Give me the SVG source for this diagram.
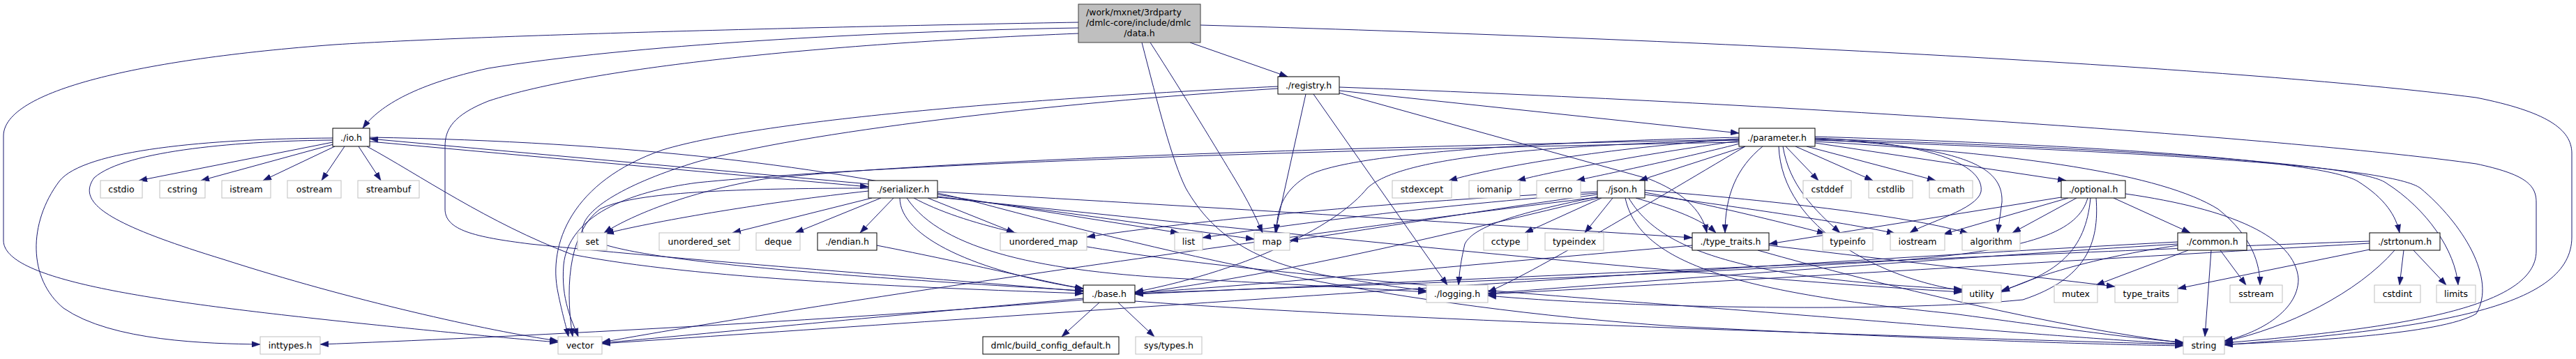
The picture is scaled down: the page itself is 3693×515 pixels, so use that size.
<svg xmlns="http://www.w3.org/2000/svg" width="3693" height="515" viewBox="0 0 3693 515">
<style>
.e{fill:none;stroke:#191970;stroke-width:1;marker-end:url(#ah)}
.n rect{fill:#ffffff;stroke:#000000;stroke-width:1}
.x rect{stroke:#bfbfbf}
.r rect{fill:#bfbfbf;stroke:#404040}
text{font-family:"DejaVu Sans","Liberation Sans",sans-serif;font-size:12.5px;text-anchor:middle;fill:#000000}
.l{text-anchor:start}
</style>
<defs>
<marker id="ah" markerUnits="userSpaceOnUse" markerWidth="12" markerHeight="9" viewBox="0 0 12 9" refX="12" refY="4.5" orient="auto">
<path d="M0,0.3 L12,4.5 L0,8.7 z" fill="#191970" stroke="#191970" stroke-width="0.5"/>
</marker>
</defs>
<rect x="0" y="0" width="3693" height="515" fill="#ffffff"/>
<g id="edges">
<path class="e" d="M1546,40 C1250,45 900,65 700,98 C600,120 545,150 520,184"/>
<path class="e" d="M1546,32 C1200,38 700,50 480,64 C200,85 5,130 5,195 L5,345 C5,400 200,430 480,460 C650,478 750,487 800,491"/>
<path class="e" d="M1546,48 C1200,62 850,95 700,145 C650,165 638,185 638,210 L638,300 C638,330 680,340 760,350 C1000,375 1350,400 1553,418"/>
<path class="e" d="M1649,61 C1700,140 1745,215 1771,258 C1790,290 1800,310 1810,334"/>
<path class="e" d="M1637,61 C1660,150 1680,230 1700,270 C1740,340 1800,375 1900,395 C1960,405 2000,412 2045,417"/>
<path class="e" d="M1706,61 L1846,110"/>
<path class="e" d="M1721,36 C2400,55 3200,95 3550,140 C3650,160 3687,185 3687,220 L3687,340 C3687,440 3500,470 3189,495"/>
<path class="e" d="M477,204 L199,259"/>
<path class="e" d="M478,207 L288,259"/>
<path class="e" d="M480,210 L377,259"/>
<path class="e" d="M494,210 L461,259"/>
<path class="e" d="M514,210 L546,259"/>
<path class="e" d="M526,210 C600,250 700,320 820,365 C1000,400 1300,412 1553,421"/>
<path class="e" d="M530,197 C900,203 1200,240 1400,290 C1700,370 2000,440 2400,468 C2800,488 3000,494 3130,496"/>
<path class="e" d="M530,203 L1245,268"/>
<path class="e" d="M477,198 C300,199 120,215 85,260 C40,320 40,400 91,442 C160,490 300,493 373,494"/>
<path class="e" d="M477,201 C350,202 180,215 135,255 C110,290 150,320 320,372 C500,430 700,475 800,489"/>
<path class="e" d="M1245,264 L530,199"/>
<path class="e" d="M1245,274 C1100,290 950,315 868,335"/>
<path class="e" d="M1250,284 L1050,334"/>
<path class="e" d="M1263,284 L1140,334"/>
<path class="e" d="M1281,284 L1233,334"/>
<path class="e" d="M1330,284 L1455,334"/>
<path class="e" d="M1344,279 L1690,334"/>
<path class="e" d="M1344,282 C1500,300 1700,330 1798,343"/>
<path class="e" d="M1344,275 C1700,295 2100,320 2426,341"/>
<path class="e" d="M1344,283 C1800,330 2400,395 2813,419"/>
<path class="e" d="M1245,270 C1000,270 900,280 860,300 C820,330 808,400 821,483"/>
<path class="e" d="M1290,284 C1290,340 1400,390 1553,414"/>
<path class="e" d="M1300,284 C1350,360 1500,390 1700,400 C1850,408 1950,413 2045,419"/>
<path class="e" d="M1310,284 C1450,360 1800,390 2300,430 C2700,460 3000,488 3130,493"/>
<path class="e" d="M1872,135 L1828,334"/>
<path class="e" d="M1883,135 L2075,409"/>
<path class="e" d="M1920,130 L2493,191"/>
<path class="e" d="M1920,125 C2600,150 3300,200 3550,235 C3620,250 3636,265 3636,290 L3636,360 C3636,440 3450,470 3189,492"/>
<path class="e" d="M1919,133 L2365,257 C2410,275 2440,300 2447,334"/>
<path class="e" d="M1832,124 C1500,140 1100,170 950,215 C820,260 785,350 800,420 C806,450 812,470 815,483"/>
<path class="e" d="M1832,127 C1500,148 1150,190 1000,232 C900,262 835,300 835,330 C835,360 1000,385 1553,417"/>
<path class="e" d="M2493,199 C2300,213 2150,238 2077,259"/>
<path class="e" d="M2493,202 C2350,222 2230,245 2175,259"/>
<path class="e" d="M2494,206 C2400,230 2300,250 2260,259"/>
<path class="e" d="M2502,210 L2350,259"/>
<path class="e" d="M2560,210 L2607,259"/>
<path class="e" d="M2574,210 L2685,259"/>
<path class="e" d="M2590,210 L2775,259"/>
<path class="e" d="M2602,205 L2962,259"/>
<path class="e" d="M2527,210 C2490,240 2473,280 2473,334"/>
<path class="e" d="M2602,198 C2780,205 2845,240 2840,275 C2835,300 2760,320 2738,334"/>
<path class="e" d="M2602,200 C2820,210 2872,240 2870,290 L2864,334"/>
<path class="e" d="M2556,210 C2565,265 2600,300 2638,334"/>
<path class="e" d="M2550,210 C2555,330 2700,400 2813,417"/>
<path class="e" d="M2602,203 C2900,220 3100,250 3180,300 C3230,340 3240,380 3240,409"/>
<path class="e" d="M2602,196 C3000,208 3330,230 3380,260 C3420,285 3435,310 3440,334"/>
<path class="e" d="M2602,199 C3050,213 3380,235 3420,262 C3480,300 3520,360 3524,409"/>
<path class="e" d="M2602,201 C3100,218 3430,240 3470,270 C3530,320 3580,400 3550,450 C3500,480 3300,490 3189,494"/>
<path class="e" d="M2493,197 C2200,204 1920,220 1870,255 C1840,275 1830,300 1830,334"/>
<path class="e" d="M2493,201 C2150,210 2000,232 1960,270 C1920,320 1800,385 1627,419"/>
<path class="e" d="M2493,204 C2000,213 1300,232 1000,262 C900,275 815,310 808,380 C804,430 820,460 829,483"/>
<path class="e" d="M2493,200 C2000,210 1400,226 1100,256 C980,276 900,312 866,334"/>
<path class="e" d="M2502,210 C2350,300 2200,390 2133,419"/>
<path class="e" d="M2296,284 L2186,334"/>
<path class="e" d="M2312,284 L2272,334"/>
<path class="e" d="M2292,282 C2150,310 2110,330 2100,350 C2093,380 2092,395 2091,409"/>
<path class="e" d="M2290,279 C2100,305 1950,332 1849,345"/>
<path class="e" d="M2290,277 C2050,295 1850,322 1724,341"/>
<path class="e" d="M2290,275 C2000,288 1700,318 1558,340"/>
<path class="e" d="M2290,283 C1900,330 1200,430 863,491"/>
<path class="e" d="M2292,284 C2100,330 1850,392 1627,421"/>
<path class="e" d="M2345,284 C2400,300 2440,315 2460,334"/>
<path class="e" d="M2358,276 C2450,293 2550,318 2617,335"/>
<path class="e" d="M2358,279 C2500,298 2650,320 2717,335"/>
<path class="e" d="M2358,273 C2550,288 2750,312 2822,335"/>
<path class="e" d="M2335,284 C2380,360 2500,400 2813,415"/>
<path class="e" d="M2330,284 C2350,380 2500,420 2800,450 C2950,470 3050,485 3130,491"/>
<path class="e" d="M2955,283 L2536,350"/>
<path class="e" d="M2965,284 L2786,336"/>
<path class="e" d="M2977,284 L2885,334"/>
<path class="e" d="M2993,284 C2980,330 2920,360 2700,375 C2300,400 1900,410 1627,421"/>
<path class="e" d="M2997,284 C2990,360 2950,392 2869,417"/>
<path class="e" d="M3005,284 C3010,350 2990,400 2900,430 C2700,450 2300,440 2133,424"/>
<path class="e" d="M3030,284 L3140,334"/>
<path class="e" d="M3047,278 C3200,300 3290,340 3295,400 C3295,450 3230,480 3189,489"/>
<path class="e" d="M3183,359 L3220,409"/>
<path class="e" d="M3170,359 L3161,483"/>
<path class="e" d="M3137,359 L3005,409"/>
<path class="e" d="M3122,352 C3000,370 2920,395 2869,419"/>
<path class="e" d="M3122,350 C2800,370 2400,400 2133,421"/>
<path class="e" d="M3122,347 C2500,380 1500,450 863,493"/>
<path class="e" d="M3397,358 L3122,414"/>
<path class="e" d="M3433,359 C3380,420 3280,470 3189,490"/>
<path class="e" d="M3446,359 L3440,409"/>
<path class="e" d="M3460,359 L3507,409"/>
<path class="e" d="M3397,346 C3000,360 2300,392 1627,422"/>
<path class="e" d="M3397,349 C3000,372 2500,402 2133,422"/>
<path class="e" d="M1257,352 C1400,380 1500,405 1553,414"/>
<path class="e" d="M2426,352 C2100,380 1800,410 1627,420"/>
<path class="e" d="M2536,352 L3032,411"/>
<path class="e" d="M2520,359 C2700,410 2950,470 3130,492"/>
<path class="e" d="M1576,434 L1522,483"/>
<path class="e" d="M1603,434 L1655,483"/>
<path class="e" d="M1553,428 C1300,450 1000,480 863,492"/>
<path class="e" d="M1553,430 C1200,460 700,485 459,494"/>
<path class="e" d="M1627,432 C2000,460 2800,485 3130,494"/>
</g>
<g id="node-data" class="n r"><rect x="1546" y="6" width="175" height="55"/><text class="l" x="1557" y="22">/work/mxnet/3rdparty</text><text class="l" x="1557" y="37">/dmlc-core/include/dmlc</text><text x="1633.5" y="52">/data.h</text></g>
<g id="node-registry" class="n"><rect x="1832" y="110" width="88" height="25"/><text x="1876" y="127">./registry.h</text></g>
<g id="node-io" class="n"><rect x="477" y="184" width="53" height="26"/><text x="503.5" y="201.5">./io.h</text></g>
<g id="node-parameter" class="n"><rect x="2493" y="184" width="109" height="26"/><text x="2547.5" y="201.5">./parameter.h</text></g>
<g id="node-cstdio" class="n x"><rect x="144" y="259" width="60" height="25"/><text x="174" y="276">cstdio</text></g>
<g id="node-cstring" class="n x"><rect x="229" y="259" width="65" height="25"/><text x="261.5" y="276">cstring</text></g>
<g id="node-istream" class="n x"><rect x="318" y="259" width="70" height="25"/><text x="353" y="276">istream</text></g>
<g id="node-ostream" class="n x"><rect x="412" y="259" width="77" height="25"/><text x="450.5" y="276">ostream</text></g>
<g id="node-streambuf" class="n x"><rect x="513" y="259" width="88" height="25"/><text x="557" y="276">streambuf</text></g>
<g id="node-serializer" class="n"><rect x="1245" y="259" width="99" height="25"/><text x="1294.5" y="276">./serializer.h</text></g>
<g id="node-stdexcept" class="n x"><rect x="1996" y="259" width="85" height="25"/><text x="2038.5" y="276">stdexcept</text></g>
<g id="node-iomanip" class="n x"><rect x="2106" y="259" width="73" height="25"/><text x="2142.5" y="276">iomanip</text></g>
<g id="node-cerrno" class="n x"><rect x="2203" y="259" width="63" height="25"/><text x="2234.5" y="276">cerrno</text></g>
<g id="node-json" class="n"><rect x="2290" y="259" width="68" height="25"/><text x="2324" y="276">./json.h</text></g>
<g id="node-cstddef" class="n x"><rect x="2585" y="259" width="69" height="25"/><text x="2619.5" y="276">cstddef</text></g>
<g id="node-cstdlib" class="n x"><rect x="2679" y="259" width="63" height="25"/><text x="2710.5" y="276">cstdlib</text></g>
<g id="node-cmath" class="n x"><rect x="2766" y="259" width="62" height="25"/><text x="2797" y="276">cmath</text></g>
<g id="node-optional" class="n"><rect x="2955" y="259" width="92" height="25"/><text x="3001" y="276">./optional.h</text></g>
<g id="node-set" class="n x"><rect x="828" y="334" width="42" height="25"/><text x="849" y="351">set</text></g>
<g id="node-unordered_set" class="n x"><rect x="945" y="334" width="115" height="25"/><text x="1002.5" y="351">unordered_set</text></g>
<g id="node-deque" class="n x"><rect x="1084" y="334" width="63" height="25"/><text x="1115.5" y="351">deque</text></g>
<g id="node-endian" class="n"><rect x="1172" y="334" width="85" height="25"/><text x="1214.5" y="351">./endian.h</text></g>
<g id="node-unordered_map" class="n x"><rect x="1434" y="334" width="124" height="25"/><text x="1496" y="351">unordered_map</text></g>
<g id="node-list" class="n x"><rect x="1684" y="334" width="40" height="25"/><text x="1704" y="351">list</text></g>
<g id="node-map" class="n x"><rect x="1798" y="334" width="51" height="25"/><text x="1823.5" y="351">map</text></g>
<g id="node-cctype" class="n x"><rect x="2127" y="334" width="63" height="25"/><text x="2158.5" y="351">cctype</text></g>
<g id="node-typeindex" class="n x"><rect x="2215" y="334" width="84" height="25"/><text x="2257" y="351">typeindex</text></g>
<g id="node-type_traits_h" class="n"><rect x="2426" y="334" width="110" height="25"/><text x="2481" y="351">./type_traits.h</text></g>
<g id="node-typeinfo" class="n x"><rect x="2613" y="334" width="72" height="25"/><text x="2649" y="351">typeinfo</text></g>
<g id="node-iostream" class="n x"><rect x="2710" y="334" width="78" height="25"/><text x="2749" y="351">iostream</text></g>
<g id="node-algorithm" class="n x"><rect x="2813" y="334" width="83" height="25"/><text x="2854.5" y="351">algorithm</text></g>
<g id="node-common" class="n"><rect x="3122" y="334" width="99" height="25"/><text x="3171.5" y="351">./common.h</text></g>
<g id="node-strtonum" class="n"><rect x="3397" y="334" width="101" height="25"/><text x="3447.5" y="351">./strtonum.h</text></g>
<g id="node-base" class="n"><rect x="1553" y="409" width="74" height="25"/><text x="1590" y="426">./base.h</text></g>
<g id="node-logging" class="n x"><rect x="2045" y="409" width="88" height="25"/><text x="2089" y="426">./logging.h</text></g>
<g id="node-utility" class="n x"><rect x="2813" y="409" width="56" height="25"/><text x="2841" y="426">utility</text></g>
<g id="node-mutex" class="n x"><rect x="2945" y="409" width="62" height="25"/><text x="2976" y="426">mutex</text></g>
<g id="node-type_traits" class="n x"><rect x="3032" y="409" width="90" height="25"/><text x="3077" y="426">type_traits</text></g>
<g id="node-sstream" class="n x"><rect x="3197" y="409" width="75" height="25"/><text x="3234.5" y="426">sstream</text></g>
<g id="node-cstdint" class="n x"><rect x="3404" y="409" width="66" height="25"/><text x="3437" y="426">cstdint</text></g>
<g id="node-limits" class="n x"><rect x="3493" y="409" width="56" height="25"/><text x="3521" y="426">limits</text></g>
<g id="node-inttypes" class="n x"><rect x="373" y="483" width="86" height="25"/><text x="416" y="500">inttypes.h</text></g>
<g id="node-vector" class="n x"><rect x="800" y="483" width="63" height="25"/><text x="831.5" y="500">vector</text></g>
<g id="node-build_config" class="n"><rect x="1409" y="483" width="195" height="25"/><text x="1506.5" y="500">dmlc/build_config_default.h</text></g>
<g id="node-systypes" class="n x"><rect x="1628" y="483" width="95" height="25"/><text x="1675.5" y="500">sys/types.h</text></g>
<g id="node-string" class="n x"><rect x="3130" y="483" width="59" height="25"/><text x="3159.5" y="500">string</text></g>
</svg>
